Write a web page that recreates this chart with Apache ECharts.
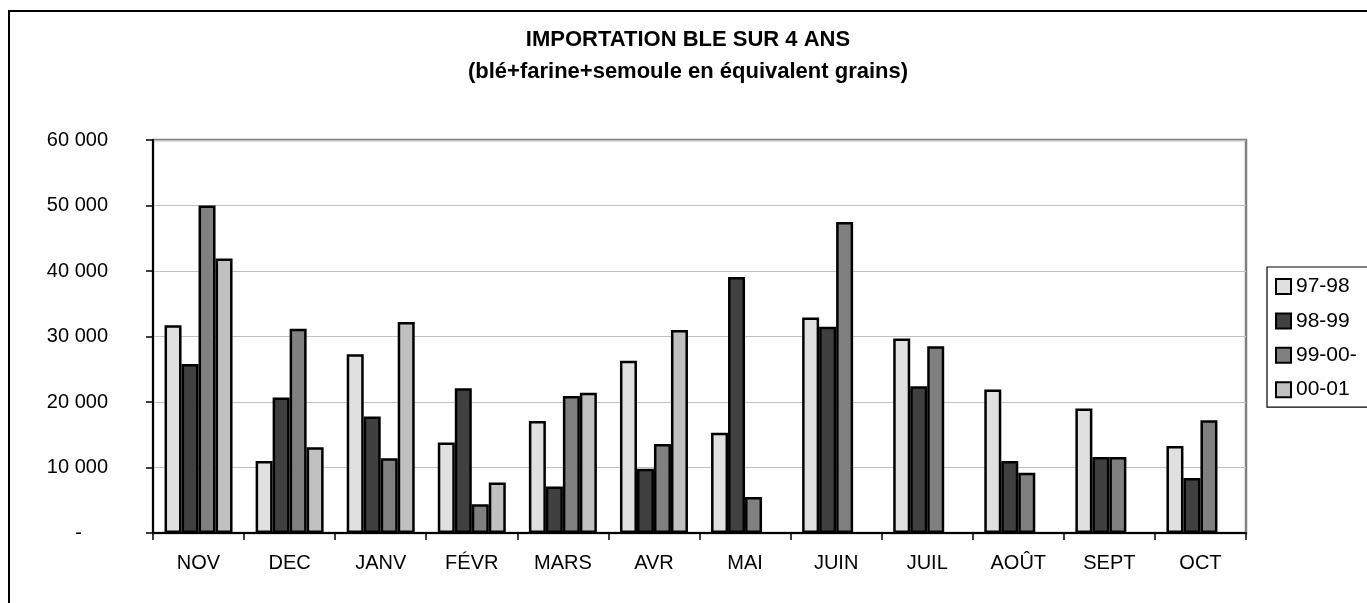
<!DOCTYPE html>
<html>
<head>
<meta charset="utf-8">
<script src="https://cdn.jsdelivr.net/npm/echarts@6/dist/echarts.min.js"></script>
<style>
html,body{margin:0;padding:0;background:#fff;}
#chart{width:1367px;height:603px;}
</style>
</head>
<body>
<div id="chart"></div>
<script>
var categories = ['NOV','DEC','JANV','FÉVR','MARS','AVR','MAI','JUIN','JUIL','AOÛT','SEPT','OCT'];
var seriesNames = ['97-98','98-99','99-00-','00-01'];
var s9798 = [31700, 11000, 27300, 13800, 17100, 26300, 15300, 32900, 29700, 21900, 19000, 13300];
var s9899 = [25800, 20700, 17800, 22100, 7100, 9800, 39100, 31500, 22400, 11000, 11600, 8400];
var s9900 = [50000, 31200, 11400, 4400, 20900, 13600, 5500, 47500, 28500, 9200, 11600, 17200];
var s0001 = [41900, 13100, 32200, 7700, 21400, 31000, null, null, null, null, null, null];
var yTicks = [0, 10000, 20000, 30000, 40000, 50000, 60000];
var colors = ['#e0e0e0', '#404040', '#808080', '#c0c0c0'];

var FONT = '"Liberation Sans", Arial, sans-serif';
var chart = echarts.init(document.getElementById('chart'), null, {renderer: 'canvas'});

function fmt(v) {
  if (v === 0) return '{d|-}';
  var s = String(v);
  return s.slice(0, s.length - 3) + ' ' + s.slice(s.length - 3);
}

var dataSets = [s9798, s9899, s9900, s0001];
var series = dataSets.map(function (d, i) {
  return {
    name: seriesNames[i],
    type: 'bar',
    data: d,
    barWidth: 17,
    barGap: '0%',
    itemStyle: {color: colors[i], borderColor: '#000', borderWidth: 2.5},
    emphasis: {disabled: true},
    animation: false
  };
});

chart.setOption({
  animation: false,
  textStyle: {fontFamily: FONT},
  title: {
    text: 'IMPORTATION BLE SUR 4 ANS\n(blé+farine+semoule en équivalent grains)',
    left: 688,
    top: 24,
    padding: 0,
    textAlign: 'center',
    textStyle: {fontFamily: FONT, fontSize: 22, fontWeight: 'bold', color: '#000', lineHeight: 32}
  },
  graphic: [{
    type: 'rect',
    shape: {x: 9, y: 11, width: 2000, height: 2000},
    style: {fill: 'none', stroke: '#000', lineWidth: 2},
    silent: true,
    z: 100
  }],
  legend: {
    orient: 'vertical',
    left: 1267,
    top: 267,
    padding: [9, 12, 7, 8],
    itemWidth: 15,
    itemHeight: 15,
    itemGap: 13.4,
    icon: 'rect',
    borderColor: '#000',
    borderWidth: 1.2,
    backgroundColor: '#fff',
    itemStyle: {borderColor: '#000', borderWidth: 2},
    textStyle: {fontFamily: FONT, fontSize: 21, color: '#000', lineHeight: 21, padding: [0,0,0,0]},
    selectedMode: false,
    data: seriesNames
  },
  grid: {
    left: 153, right: 121, top: 140, bottom: 70,
    show: true,
    borderColor: '#808080',
    borderWidth: 2.5,
    backgroundColor: '#fff'
  },
  xAxis: {
    type: 'category',
    data: categories,
    axisLine: {lineStyle: {color: '#000', width: 2}},
    axisTick: {show: true, length: 7, lineStyle: {color: '#000', width: 1.5}, alignWithLabel: false, interval: 0},
    axisLabel: {fontFamily: FONT, fontSize: 20, color: '#000', margin: 20, interval: 0},
    splitLine: {show: false}
  },
  yAxis: {
    type: 'value',
    min: 0,
    max: 60000,
    interval: 10000,
    axisLine: {show: true, lineStyle: {color: '#000', width: 2}},
    axisTick: {show: true, length: 7, lineStyle: {color: '#000', width: 1.5}},
    axisLabel: {
      fontFamily: FONT, fontSize: 20, color: '#000', margin: 45,
      formatter: fmt,
      rich: {d: {fontFamily: FONT, fontSize: 20, color: '#000', padding: [0, 26, 0, 0]}}
    },
    splitLine: {show: true, lineStyle: {color: '#c0c0c0', width: 1.2}}
  },
  series: series
});
</script>
</body>
</html>
